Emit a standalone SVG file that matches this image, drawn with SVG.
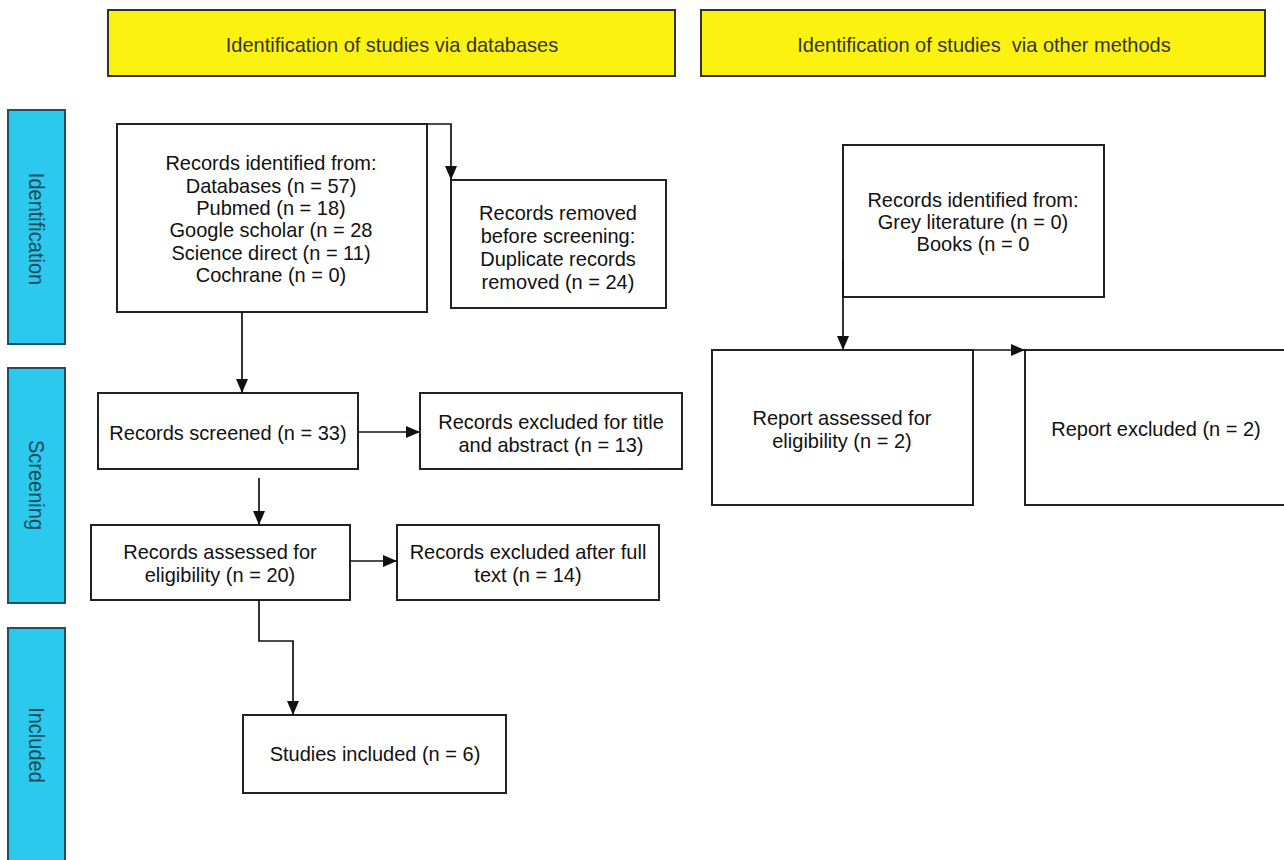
<svg xmlns="http://www.w3.org/2000/svg" width="1284" height="860" viewBox="0 0 1284 860">
<defs>
<marker id="ah" viewBox="0 0 14 12" refX="14" refY="6" markerWidth="14" markerHeight="12" markerUnits="userSpaceOnUse" orient="auto">
<path d="M0,0 L14,6 L0,12 z" fill="#111"/>
</marker>
<style>
.box{fill:#fff;stroke:#222;stroke-width:2}
.hdr{fill:#fbf30f;stroke:#333;stroke-width:2}
.side{fill:#2bc9ee;stroke:#22505e;stroke-width:2}
.t,.h{font-family:"Liberation Sans",Arial,sans-serif;font-size:20px;text-anchor:middle;dominant-baseline:central;transform-box:fill-box;transform-origin:center;transform:scaleY(1.05)}
.t{fill:#111}
.h{fill:#333}
.s{font-family:"Liberation Sans",Arial,sans-serif;font-size:20px;fill:#1d4a57;text-anchor:middle;dominant-baseline:central}
.c{fill:none;stroke:#111;stroke-width:1.7}
</style>
</defs>
<rect width="1284" height="860" fill="#fff"/>
<g id="hdr-db"><rect class="hdr" x="108" y="10" width="567" height="66"/><text class="h" x="392" y="44">Identification of studies via databases</text></g>
<g id="hdr-other"><rect class="hdr" x="701" y="10" width="564" height="66"/><text class="h" x="984" y="44" xml:space="preserve">Identification of studies  via other methods</text></g>
<g id="side-ident"><rect class="side" x="8" y="110" width="57" height="234"/><text class="s" transform="translate(36.5,229) rotate(90) scale(1,1.1)">Identification</text></g>
<g id="side-screen"><rect class="side" x="8" y="368" width="57" height="235"/><text class="s" transform="translate(36.5,485) rotate(90) scale(1,1.1)">Screening</text></g>
<g id="side-incl"><rect class="side" x="8" y="628" width="57" height="240"/><text class="s" transform="translate(36.5,745) rotate(90) scale(1,1.1)">Included</text></g>

<g id="n-ident"><rect class="box" x="117" y="124" width="310" height="188"/>
<text class="t" x="271" y="162">Records identified from:</text>
<text class="t" x="271" y="185">Databases (n = 57)</text>
<text class="t" x="271" y="207">Pubmed (n = 18)</text>
<text class="t" x="271" y="229">Google scholar (n = 28</text>
<text class="t" x="271" y="252">Science direct (n = 11)</text>
<text class="t" x="271" y="274">Cochrane (n = 0)</text></g>
<g id="n-removed"><rect class="box" x="451" y="180" width="215" height="128"/>
<text class="t" x="558" y="212">Records removed</text>
<text class="t" x="558" y="235">before screening:</text>
<text class="t" x="558" y="258">Duplicate records</text>
<text class="t" x="558" y="281">removed (n = 24)</text></g>
<g id="n-screened"><rect class="box" x="98" y="393" width="260" height="76"/>
<text class="t" x="228" y="432">Records screened (n = 33)</text></g>
<g id="n-excl1"><rect class="box" x="420" y="393" width="262" height="76"/>
<text class="t" x="551" y="421">Records excluded for title</text>
<text class="t" x="551" y="444">and abstract (n = 13)</text></g>
<g id="n-assessed"><rect class="box" x="91" y="525" width="259" height="75"/>
<text class="t" x="220" y="551">Records assessed for</text>
<text class="t" x="220" y="574">eligibility (n = 20)</text></g>
<g id="n-excl2"><rect class="box" x="397" y="525" width="262" height="75"/>
<text class="t" x="528" y="551">Records excluded after full</text>
<text class="t" x="528" y="574">text (n = 14)</text></g>
<g id="n-included"><rect class="box" x="243" y="715" width="263" height="78"/>
<text class="t" x="375" y="753">Studies included (n = 6)</text></g>
<g id="n-other"><rect class="box" x="843" y="145" width="261" height="152"/>
<text class="t" x="973" y="199">Records identified from:</text>
<text class="t" x="973" y="221">Grey literature (n = 0)</text>
<text class="t" x="973" y="243">Books (n = 0</text></g>
<g id="n-report"><rect class="box" x="712" y="350" width="261" height="155"/>
<text class="t" x="842" y="417">Report assessed for</text>
<text class="t" x="842" y="440">eligibility (n = 2)</text></g>
<g id="n-repexcl"><rect class="box" x="1025" y="350" width="270" height="155"/>
<text class="t" x="1156" y="428">Report excluded (n = 2)</text></g>

<g id="connectors">
<path class="c" d="M427,124 H451 V180" marker-end="url(#ah)"/>
<path class="c" d="M242,312 V393" marker-end="url(#ah)"/>
<path class="c" d="M358,432 H420" marker-end="url(#ah)"/>
<path class="c" d="M259,478 V525" marker-end="url(#ah)"/>
<path class="c" d="M350,561 H397" marker-end="url(#ah)"/>
<path class="c" d="M259,600 V641 H293 V715" marker-end="url(#ah)"/>
<path class="c" d="M843,260 V350" marker-end="url(#ah)"/>
<path class="c" d="M973,350 H1025" marker-end="url(#ah)"/>
</g>
</svg>
